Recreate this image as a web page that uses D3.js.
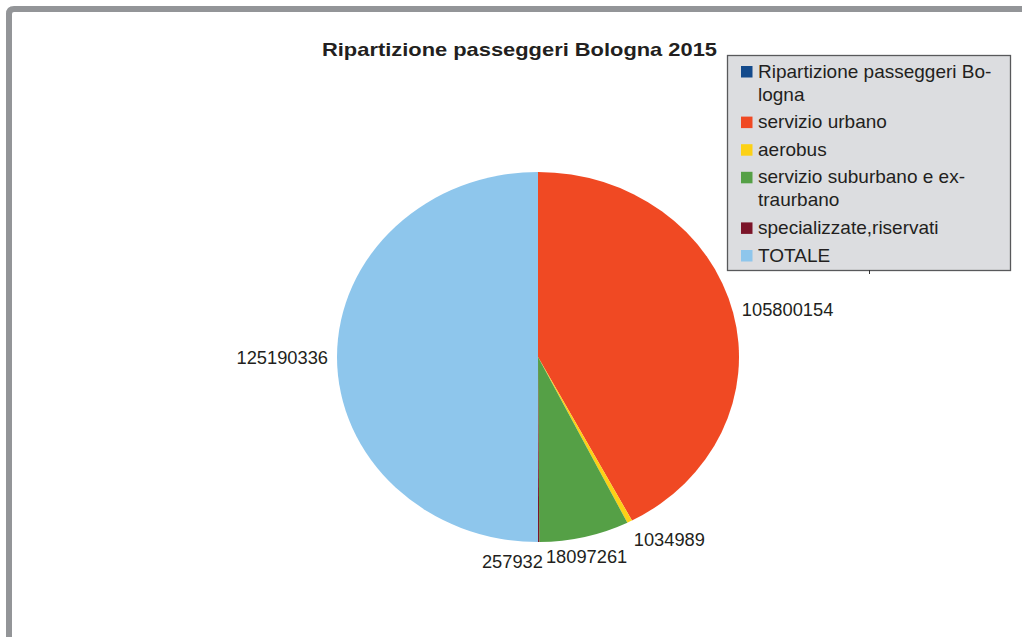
<!DOCTYPE html>
<html>
<head>
<meta charset="utf-8">
<script src="https://cdn.jsdelivr.net/npm/d3@7"></script>
<style>
  html, body { margin: 0; padding: 0; background: #fff; }
  svg { display: block; font-family: "Liberation Sans", Arial, sans-serif; }
</style>
</head>
<body>
<svg id="chart" width="1022" height="637"></svg>
<script>
// Passenger breakdown, Bologna 2015
const title = "Ripartizione passeggeri Bologna 2015";
const categories = [
  "Ripartizione passeggeri Bologna",
  "servizio urbano",
  "aerobus",
  "servizio suburbano e extraurbano",
  "specializzate,riservati",
  "TOTALE"
];
const legendLines = [
  ["Ripartizione passeggeri Bo-", "logna"],
  ["servizio urbano"],
  ["aerobus"],
  ["servizio suburbano e ex-", "traurbano"],
  ["specializzate,riservati"],
  ["TOTALE"]
];
const values = [0, 105800154, 1034989, 18097261, 257932, 125190336];
const colors = ["#134a8c", "#f04923", "#fcd116", "#55a046", "#7b1429", "#8ec6ec"];

const svg = d3.select("#chart");

// Outer frame (left and top rule with rounded corner)
svg.append("path")
  .attr("d", "M9,637 L9,14 Q9,9 14,9 L1022,9")
  .attr("fill", "none")
  .attr("stroke", "#939598")
  .attr("stroke-width", 6);

// Title
svg.append("text")
  .attr("x", 322).attr("y", 56)
  .attr("font-size", 19).attr("font-weight", "bold")
  .attr("fill", "#231f20")
  .attr("textLength", 395).attr("lengthAdjust", "spacingAndGlyphs")
  .text(title);

// Pie geometry (slightly elliptical)
const cx = 538, cy = 357, rx = 201, ry = 185;
const pie = d3.pie().sort(null).value(d => d.value);
const arcs = pie(categories.map((c, i) => ({ name: c, value: values[i], color: colors[i] })));
const arc = d3.arc().innerRadius(0).outerRadius(ry);

const g = svg.append("g")
  .attr("transform", `translate(${cx},${cy}) scale(${rx / ry},1)`);
g.selectAll("path")
  .data(arcs.filter(a => a.value > 0))
  .join("path")
  .attr("d", arc)
  .attr("fill", d => d.data.color);

// Value labels placed just outside the rim
const fs = 18.3;
const labelLayer = svg.append("g")
  .attr("font-size", fs).attr("fill", "#231f20");
const placed = [];
arcs.forEach(a => {
  if (a.value <= 0) return;
  const mid = (a.startAngle + a.endAngle) / 2;
  const s = Math.sin(mid), c = Math.cos(mid);
  const px = cx + (rx + 9) * s;
  const py = cy - (ry + 13) * c;
  const t = labelLayer.append("text").text(d3.format("d")(a.value));
  const w = t.node().getComputedTextLength();
  let left;
  if (s > 0.35) left = px;
  else if (s < -0.35) left = px - w;
  else left = px - w / 2;
  let base;
  if (c < -0.35) base = py + 13;
  else if (c > 0.35) base = py;
  else base = py + 6.5;
  // keep neighbouring labels apart
  placed.forEach(p => {
    const overlapX = left < p.left + p.w + 3 && left + w + 3 > p.left;
    const overlapY = Math.abs(base - p.base) < fs;
    if (overlapX && overlapY) {
      if (left + w / 2 < p.left + p.w / 2) left = p.left - 3 - w;
      else left = p.left + p.w + 3;
    }
  });
  placed.push({ left, w, base });
  t.attr("x", left).attr("y", base);
});

// Legend
const lg = svg.append("g");
lg.append("rect")
  .attr("x", 727.5).attr("y", 55.5)
  .attr("width", 283).attr("height", 215)
  .attr("fill", "#dcdde0")
  .attr("stroke", "#58595b")
  .attr("stroke-width", 1.3);
lg.append("line")
  .attr("x1", 869.5).attr("x2", 869.5)
  .attr("y1", 270).attr("y2", 274)
  .attr("stroke", "#333").attr("stroke-width", 1);

const lineH = 23;
let yb = 77.5;
legendLines.forEach((lines, i) => {
  lg.append("rect")
    .attr("x", 741).attr("y", yb - 11.5)
    .attr("width", 11.5).attr("height", 11.5)
    .attr("fill", colors[i]);
  const t = lg.append("text")
    .attr("x", 758).attr("y", yb)
    .attr("font-size", 19).attr("fill", "#231f20");
  lines.forEach((ln, j) => {
    t.append("tspan").attr("x", 758).attr("dy", j === 0 ? 0 : lineH).text(ln);
  });
  yb += lines.length * lineH + 4.6;
});
</script>
</body>
</html>
